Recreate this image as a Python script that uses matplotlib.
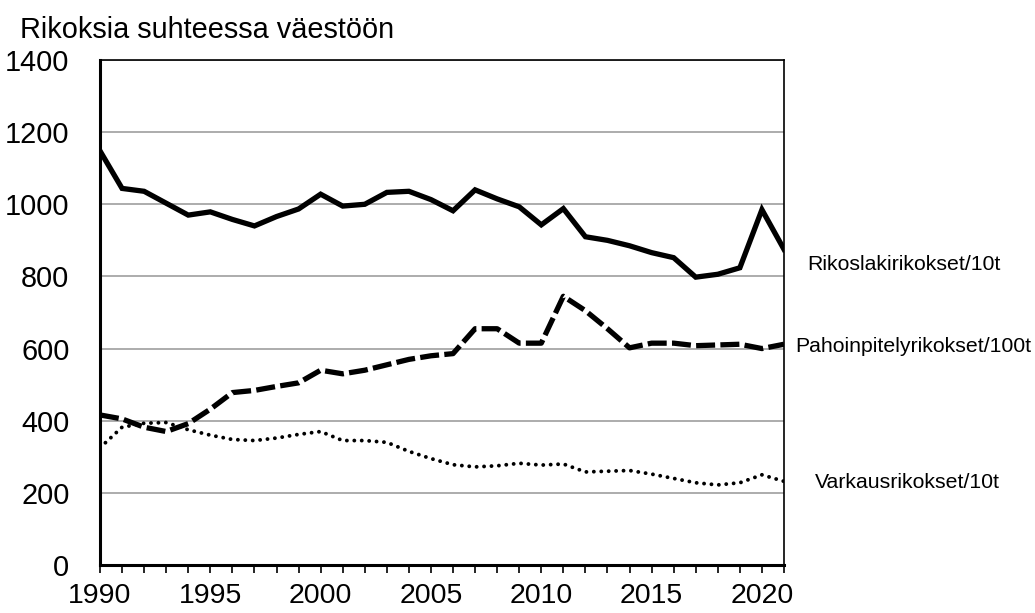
import matplotlib
matplotlib.use('Agg')
import matplotlib.pyplot as plt
from matplotlib.ticker import MultipleLocator

plt.rcParams['font.family'] = ['Liberation Sans', 'DejaVu Sans']

years = list(range(1990, 2022))

# Rikoslakirikokset / 10 000 asukasta
rikoslaki = [1148, 1044, 1036, 1003, 970, 979, 958, 940, 966, 987, 1028, 995,
             1000, 1033, 1036, 1013, 982, 1040, 1015, 993, 943, 988, 910, 900,
             885, 866, 852, 798, 806, 824, 985, 875]
# Pahoinpitelyrikokset / 100 000 asukasta
pahoinpitely = [416, 405, 382, 370, 392, 432, 478, 484, 495, 505, 540, 530,
                540, 555, 570, 580, 586, 655, 655, 615, 615, 745, 705, 655,
                602, 615, 615, 608, 610, 612, 600, 612]
# Varkausrikokset / 10 000 asukasta
varkaus = [325, 382, 393, 395, 375, 360, 348, 345, 352, 362, 370, 345,
           345, 340, 315, 295, 278, 272, 275, 282, 277, 280, 258, 260,
           262, 252, 240, 228, 222, 228, 250, 232]

labels = ['Rikoslakirikokset/10t', 'Pahoinpitelyrikokset/100t', 'Varkausrikokset/10t']

fig = plt.figure(figsize=(10.35, 6.13), dpi=100)
ax = fig.add_axes([100 / 1035, 1 - 565 / 613, 684 / 1035, 505 / 613])

ax.plot(years, rikoslaki, color='black', lw=3.8, solid_joinstyle='miter', zorder=3)
ax.plot(years, pahoinpitely, color='black', lw=3.8, dashes=(3.6, 1.0), zorder=3)
ax.plot(years, varkaus, color='black', lw=2.8, linestyle=(0, (0.01, 1.9)),
        dash_capstyle='round', zorder=3)

ax.set_xlim(1990, 2021)
ax.set_ylim(0, 1400)
ax.yaxis.set_major_locator(MultipleLocator(200))
ax.xaxis.set_major_locator(MultipleLocator(5))
ax.xaxis.set_minor_locator(MultipleLocator(1))
ax.grid(axis='y', color='#a6a6a6', lw=1.3, zorder=0)

ax.tick_params(axis='y', length=0, pad=22, labelsize=20.8)
ax.tick_params(axis='x', which='both', direction='out', length=6, width=1.2,
               pad=7, labelsize=20.5)

for s in ['left', 'bottom']:
    ax.spines[s].set_linewidth(2.2)
ax.spines['right'].set_linewidth(1.2)
ax.spines['top'].set_linewidth(1.2)

fig.text(20 / 1035, 1 - 30 / 613, 'Rikoksia suhteessa väestöön', fontsize=20.8,
         va='center', ha='left')

fig.text(807 / 1035, 1 - 265 / 613, labels[0], fontsize=15.3, va='center')
fig.text(795 / 1035, 1 - 347 / 613, labels[1], fontsize=15.3, va='center')
fig.text(815 / 1035, 1 - 483 / 613, labels[2], fontsize=15.3, va='center')

fig.savefig('out.png', dpi=100)
